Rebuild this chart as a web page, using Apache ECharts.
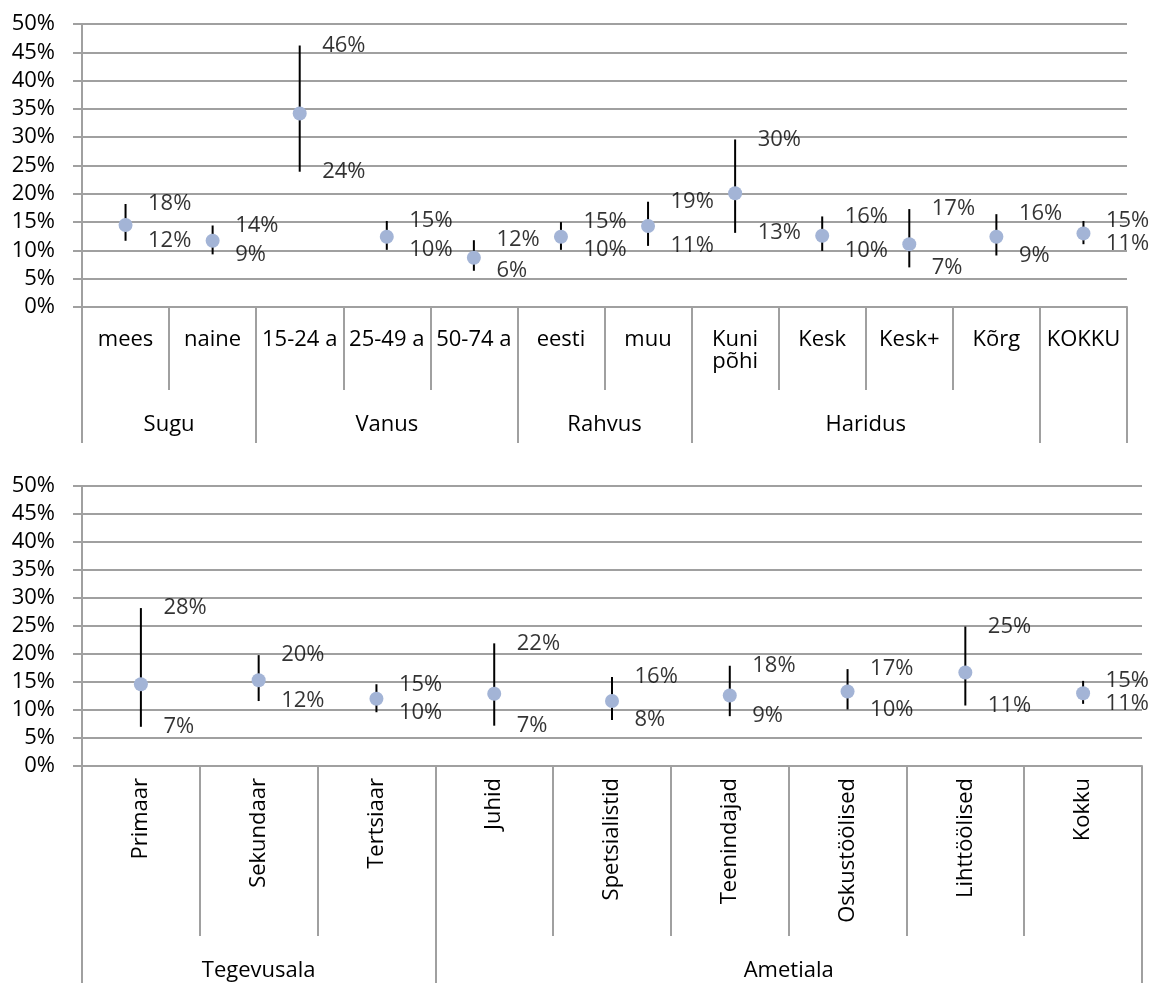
<!DOCTYPE html>
<html>
<head>
<meta charset="utf-8">
<script src="https://cdn.jsdelivr.net/npm/echarts@6/dist/echarts.min.js"></script>
<style>
html,body{margin:0;padding:0;background:#fff;}
#c{width:1153px;height:983px;}
</style>
</head>
<body>
<div id="c"></div>
<script>
// ---- Data ----
const topCats = ['mees','naine','15-24 a','25-49 a','50-74 a','eesti','muu','Kuni\npõhi','Kesk','Kesk+','Kõrg','KOKKU'];
const topMean = [14.5, 11.7, 34.2, 12.4, 8.7, 12.4, 14.3, 20.1, 12.6, 11.1, 12.4, 13.0];
const topHigh = [18.2, 14.4, 46.2, 15.2, 11.8, 15.0, 18.6, 29.6, 16.0, 17.3, 16.4, 15.2];
const topLow  = [11.7, 9.3, 23.9, 10.1, 6.4, 10.1, 10.8, 13.1, 9.9, 7.0, 9.1, 11.1];
const topGroupNames = ['Sugu','Vanus','Rahvus','Haridus',''];
const topGroupSizes = [2, 3, 2, 4, 1];

const botCats = ['Primaar','Sekundaar','Tertsiaar','Juhid','Spetsialistid','Teenindajad','Oskustöölised','Lihttöölised','Kokku'];
const botMean = [14.6, 15.3, 12.0, 12.9, 11.6, 12.6, 13.3, 16.7, 13.0];
const botHigh = [28.2, 19.8, 14.6, 21.9, 15.9, 17.9, 17.3, 24.9, 15.2];
const botLow  = [7.0, 11.6, 9.6, 7.2, 8.2, 8.9, 10.1, 10.8, 11.1];
const botGroupNames = ['Tegevusala','Ametiala'];
const botGroupSizes = [3, 6];

const yTicks = [0, 5, 10, 15, 20, 25, 30, 35, 40, 45, 50];

// ---- Styles ----
const FONT = '"Open Sans"';
const FS = 22;
const GRAY = '#a0a0a0';
const DOT = '#a3b4d6';

function groupInfo(names, sizes) {
  const bounds = [0]; const centers = []; const labels = {};
  let acc = 0;
  sizes.forEach((s, i) => {
    centers.push(acc + s / 2);
    labels[acc + s / 2] = names[i];
    acc += s; bounds.push(acc);
  });
  return { bounds, centers, labels, total: acc };
}

function buildAxes(gi, cats, groups, opts) {
  const info = groupInfo(groups.names, groups.sizes);
  return [
    {
      type: 'category', gridIndex: gi, data: cats, position: 'bottom',
      boundaryGap: true,
      axisLine: { show: true, lineStyle: { color: GRAY, width: 2 } },
      axisTick: { show: true, interval: 0, length: opts.tickLen, lineStyle: { color: GRAY, width: 2 } },
      axisLabel: { interval: 0, color: '#000', fontFamily: FONT, fontSize: FS, margin: opts.labelMargin,
                   rotate: opts.rotate, lineHeight: 22 },
      splitLine: { show: false }
    },
    {
      type: 'value', gridIndex: gi, position: 'bottom', min: 0, max: info.total,
      axisLine: { show: false },
      splitLine: { show: false },
      axisTick: { show: true, customValues: info.bounds, length: opts.groupTickLen, lineStyle: { color: GRAY, width: 2 } },
      axisLabel: { show: true, customValues: info.centers, color: '#000', fontFamily: FONT, fontSize: FS,
                   margin: opts.groupLabelMargin, formatter: v => info.labels[v] || '' }
    }
  ];
}

function yAxis(gi) {
  return {
    type: 'value', gridIndex: gi, min: yTicks[0], max: yTicks[yTicks.length - 1], interval: 5,
    axisLine: { show: true, lineStyle: { color: GRAY, width: 2 } },
    axisTick: { show: true, length: 9, lineStyle: { color: GRAY, width: 2 } },
    splitLine: { show: true, lineStyle: { color: GRAY, width: 2 } },
    axisLabel: { color: '#000', fontFamily: FONT, fontSize: FS, margin: 27, formatter: '{value}%' }
  };
}

function seriesFor(gi, xi, yi, mean, high, low) {
  const errData = mean.map((m, i) => [i, low[i], high[i]]);
  const lbl = () => ({
    show: true, position: 'right', distance: 22, color: '#000', fontFamily: FONT, fontSize: FS,
    formatter: p => Math.round(p.value[1]) + '%'
  });
  return [
    {
      type: 'custom', xAxisIndex: xi, yAxisIndex: yi, z: 2,
      data: errData, encode: { x: 0, y: [1, 2] },
      renderItem: (params, api) => {
        const a = api.coord([api.value(0), api.value(1)]);
        const b = api.coord([api.value(0), api.value(2)]);
        return { type: 'line', shape: { x1: a[0], y1: a[1], x2: b[0], y2: b[1] },
                 style: { stroke: '#000', lineWidth: 2 } };
      }
    },
    {
      type: 'scatter', xAxisIndex: xi, yAxisIndex: yi, z: 3,
      symbol: 'circle', symbolSize: 14, itemStyle: { color: DOT, opacity: 1 },
      data: mean.map((v, i) => [i, v]), silent: true
    },
    {
      type: 'scatter', xAxisIndex: xi, yAxisIndex: yi, z: 4,
      symbol: 'circle', symbolSize: 1, itemStyle: { color: 'rgba(0,0,0,0)' },
      data: high.map((v, i) => [i, v]), label: lbl(), silent: true
    },
    {
      type: 'scatter', xAxisIndex: xi, yAxisIndex: yi, z: 4,
      symbol: 'circle', symbolSize: 1, itemStyle: { color: 'rgba(0,0,0,0)' },
      data: low.map((v, i) => [i, v]), label: lbl(), silent: true
    }
  ];
}

const xTop = buildAxes(0, topCats, { names: topGroupNames, sizes: topGroupSizes },
  { tickLen: 83, labelMargin: 22, rotate: 0, groupTickLen: 136, groupLabelMargin: 107 });
const xBot = buildAxes(1, botCats, { names: botGroupNames, sizes: botGroupSizes },
  { tickLen: 170, labelMargin: 12, rotate: 90, groupTickLen: 230, groupLabelMargin: 194 });

const option = {
  animation: false,
  backgroundColor: '#fff',
  grid: [
    { left: 82, top: 24, width: 1045, height: 283 },
    { left: 82, top: 486, width: 1060, height: 280 }
  ],
  xAxis: [xTop[0], xTop[1], xBot[0], xBot[1]],
  yAxis: [yAxis(0), yAxis(1)],
  series: [
    ...seriesFor(0, 0, 0, topMean, topHigh, topLow),
    ...seriesFor(1, 2, 1, botMean, botHigh, botLow)
  ]
};

const chart = echarts.init(document.getElementById('c'), null, { renderer: 'canvas' });
chart.setOption(option);
</script>
</body>
</html>
